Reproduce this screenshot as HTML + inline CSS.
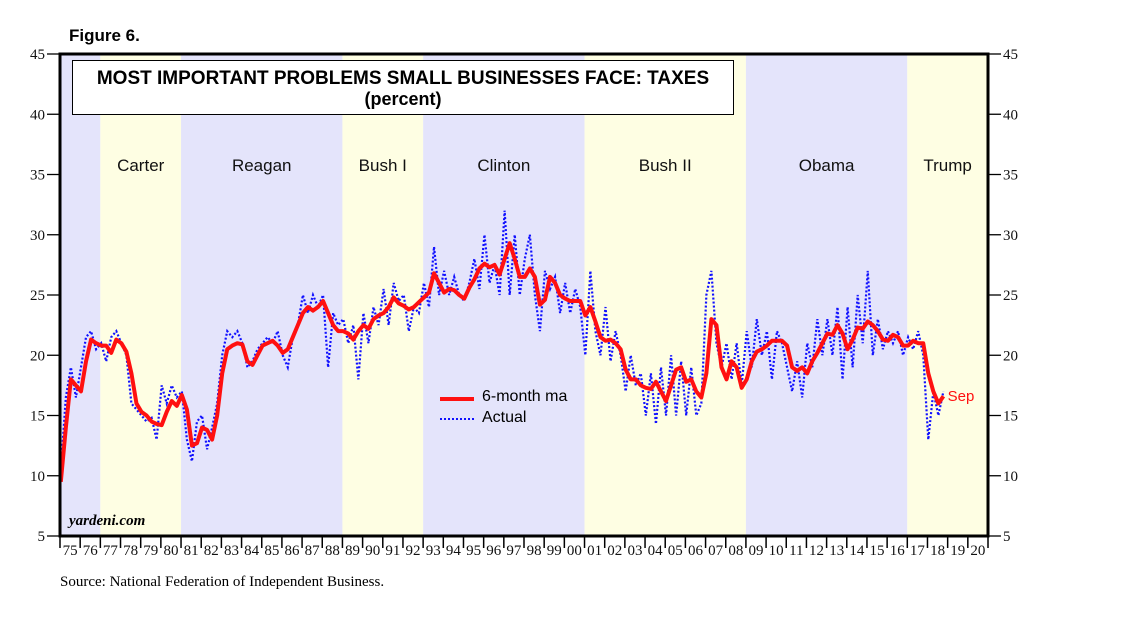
<!DOCTYPE html>
<html><head><meta charset="utf-8"><style>
body{margin:0;background:#fff;width:1138px;height:621px;overflow:hidden}
svg{display:block}
</style></head><body>
<svg id="chart" width="1138" height="621" xmlns="http://www.w3.org/2000/svg">
<g id="bands"></g><g id="series"></g><g id="axes"></g>
</svg>
<script>
const years = [];
for (let y = 1975; y <= 2020; y++) years.push(y);
const presidents = ["Carter","Reagan","Bush I","Clinton","Bush II","Obama","Trump"];
const termStarts = [1977,1981,1989,1993,2001,2009,2017];
const yTicks = [5,10,15,20,25,30,35,40,45];
const maValues = [9.5,14,18,17.5,17,19.5,21.3,21,20.8,20.8,20.2,21.3,21,20.3,18.5,16,15.3,15,14.5,14.3,14.2,15.3,16.2,15.8,16.7,15.5,12.5,12.7,14,13.8,13,15,18.5,20.5,20.8,21,20.9,19.5,19.2,20,20.8,21,21.2,20.8,20.2,20.5,21.5,22.5,23.5,24,23.7,24,24.5,23.5,22.5,22,22,21.8,21.3,22,22.5,22.2,23,23.3,23.5,24,24.8,24.3,24.1,23.8,24,24.4,24.8,25.2,26.8,26,25.2,25.5,25.4,25,24.7,25.6,26.3,27.2,27.6,27.3,27.5,26.7,28,29.3,28,26.5,26.5,27.2,26.5,24.2,24.6,26.5,26,25,24.7,24.5,24.5,24.5,23.3,24,22.8,21.5,21.2,21.3,21,20.5,18.8,18,18,17.5,17.3,17.2,17.8,17,16.2,17.5,18.8,19,17.8,18,17,16.5,18.5,23,22.5,19,18,19.5,19,17.3,18,19.5,20.3,20.5,20.8,21.2,21.2,21.2,20.8,19,18.7,19,18.5,19.5,20.2,21,21.8,21.7,22.5,21.8,20.5,21.3,22.3,22.2,22.8,22.5,22,21.3,21.2,21.7,21.5,20.8,20.8,21.2,21,21,18.5,17,16,16.6];
const actualValues = [10.5,16.5,19,16.5,19,21.5,22,20.5,21,19.5,21.5,22,21,20,16,15.5,15,14.5,14.8,13,17.5,16,17.5,16.5,17,13,11.2,14.5,15,12.2,14,16,20,22,21.5,22,21,19,19.5,20.5,21,21.5,21,22,20,19,21.5,22.5,25,23.5,25,24,25,19,23.5,22.5,23,21,22.5,18,23.5,21,24,22.5,25.5,22.5,26,24.5,25,22,24,23.5,26,24,29,25,27,25,26.5,25,24.5,26,28,25.5,30,26,27.5,25,32,25,30,25,28,30,25,22,27,25.5,26.5,23.5,26,23.5,25.5,24,20,27,22,20,24,19.5,22,20,17,20,17.5,18.5,15,18.5,14.3,19,15,20,15,19.5,15,19,15,16,25,27,21,19,21,18,21,17.5,22,19,23,20,22,18,22,21,19,17,19.5,16.5,21,19,23,20,23,20,24,18,24,19,25,21,27,20,23,20.5,22,21,22,20,21.5,20.5,22,20,13,17,15,17];

const X0=60, X1=988, Y0=54, Y1=536, T0=1975, T1=2021;
const xs = t => X0 + (t - T0) * (X1 - X0) / (T1 - T0);
const ys = v => Y1 - (v - 5) * (Y1 - Y0) / 40;
const tOf = i => T0 + i * 0.25;
const NS="http://www.w3.org/2000/svg";
function mk(tag, attrs, parent, text){const e=document.createElementNS(NS,tag);for(const k in attrs)e.setAttribute(k,attrs[k]);if(text!==undefined)e.textContent=text;parent.appendChild(e);return e;}
const bands=document.getElementById('bands'), series=document.getElementById('series'), axes=document.getElementById('axes');

const bStarts=[T0].concat(termStarts), bEnds=termStarts.concat([T1]);
for(let i=0;i<bStarts.length;i++){
  const r=mk('rect',{x:xs(bStarts[i]),y:Y0,width:xs(bEnds[i])-xs(bStarts[i]),height:Y1-Y0,fill:i%2===0?'#e4e4fb':'#fefee3'},bands);
  
  
}
presidents.forEach((p,i)=>{
  const end=i+1<termStarts.length?termStarts[i+1]:T1;
  const t=mk('text',{x:xs((termStarts[i]+end)/2),y:171,'text-anchor':'middle','font-family':'Liberation Sans, sans-serif','font-size':17,fill:'#111'},bands,p);
  
  
});

const actPts=actualValues.map((v,i)=>xs(tOf(i)+0.04)+','+ys(v)).join(' ');
const act=mk('polyline',{points:actPts,fill:'none',stroke:'#1010ff','stroke-width':2.2,'stroke-dasharray':'2 2'},series);


const maPts=maValues.map((v,i)=>xs(tOf(i)+0.04)+','+ys(v)).join(' ');
const ma=mk('polyline',{points:maPts,fill:'none',stroke:'#ff1010','stroke-width':4,'stroke-linejoin':'round'},series);


const lastI=maValues.length-1;
const sep=mk('text',{x:xs(tOf(lastI))+5,y:ys(maValues[lastI])+5,'font-family':'Liberation Sans, sans-serif','font-size':15,fill:'#ff1010'},series,'Sep');



const fr=mk('rect',{x:X0,y:Y0,width:X1-X0,height:Y1-Y0,fill:'none',stroke:'#000','stroke-width':3},axes);


yTicks.forEach(v=>{
  mk('line',{x1:X0-13,x2:X0,y1:ys(v),y2:ys(v),stroke:'#000','stroke-width':1.3},axes);
  mk('line',{x1:X1,x2:X1+13,y1:ys(v),y2:ys(v),stroke:'#000','stroke-width':1.3},axes);
  const l=mk('text',{x:X0-15,y:ys(v)+5,'text-anchor':'end','font-family':'Liberation Serif, serif','font-size':15,fill:'#111'},axes,String(v));
  
  
  const r=mk('text',{x:X1+15,y:ys(v)+5,'font-family':'Liberation Serif, serif','font-size':15,fill:'#111'},axes,String(v));
  
  
});
for(let y=T0;y<=T1;y++){
  mk('line',{x1:xs(y),x2:xs(y),y1:Y1,y2:Y1+12,stroke:'#000','stroke-width':1.5},axes);
}
years.forEach(y=>{
  const l=mk('text',{x:xs(y+0.5),y:Y1+19,'text-anchor':'middle','font-family':'Liberation Serif, serif','font-size':15,fill:'#111'},axes,String(y).slice(2));
  
  
});
</script>
<div style="position:absolute;left:0;top:0;width:1138px;height:621px;pointer-events:none">
<div style="position:absolute;left:69px;top:26px;font:bold 17px 'Liberation Sans',sans-serif">Figure 6.</div>
<div style="position:absolute;left:72px;top:60px;width:662px;height:55px;background:#fff;border:1.5px solid #000;text-align:center;font:bold 19px 'Liberation Sans',sans-serif;line-height:20px;padding-top:8px;box-sizing:border-box;white-space:nowrap">
<div>MOST IMPORTANT PROBLEMS SMALL BUSINESSES FACE: TAXES</div>
<div style="font-size:18px">(percent)</div>
</div>
<div style="position:absolute;left:440px;top:388px;width:160px;white-space:nowrap;font:16px 'Liberation Sans',sans-serif">
<div style="position:relative;height:21px"><span style="position:absolute;left:0;top:9px;width:34px;height:4px;background:#ff1010"></span><span style="position:absolute;left:42px;top:0">6-month ma</span></div>
<div style="position:relative;height:21px"><span style="position:absolute;left:0;top:9px;width:34px;border-top:2.5px dotted #1010ff"></span><span style="position:absolute;left:42px;top:0">Actual</span></div>
</div>
<div style="position:absolute;left:69px;top:513px;font:italic bold 15px 'Liberation Serif',serif">yardeni.com</div>
<div style="position:absolute;left:60px;top:574px;font:15px 'Liberation Serif',serif;white-space:nowrap">Source: National Federation of Independent Business.</div>
</div>
</body></html>
